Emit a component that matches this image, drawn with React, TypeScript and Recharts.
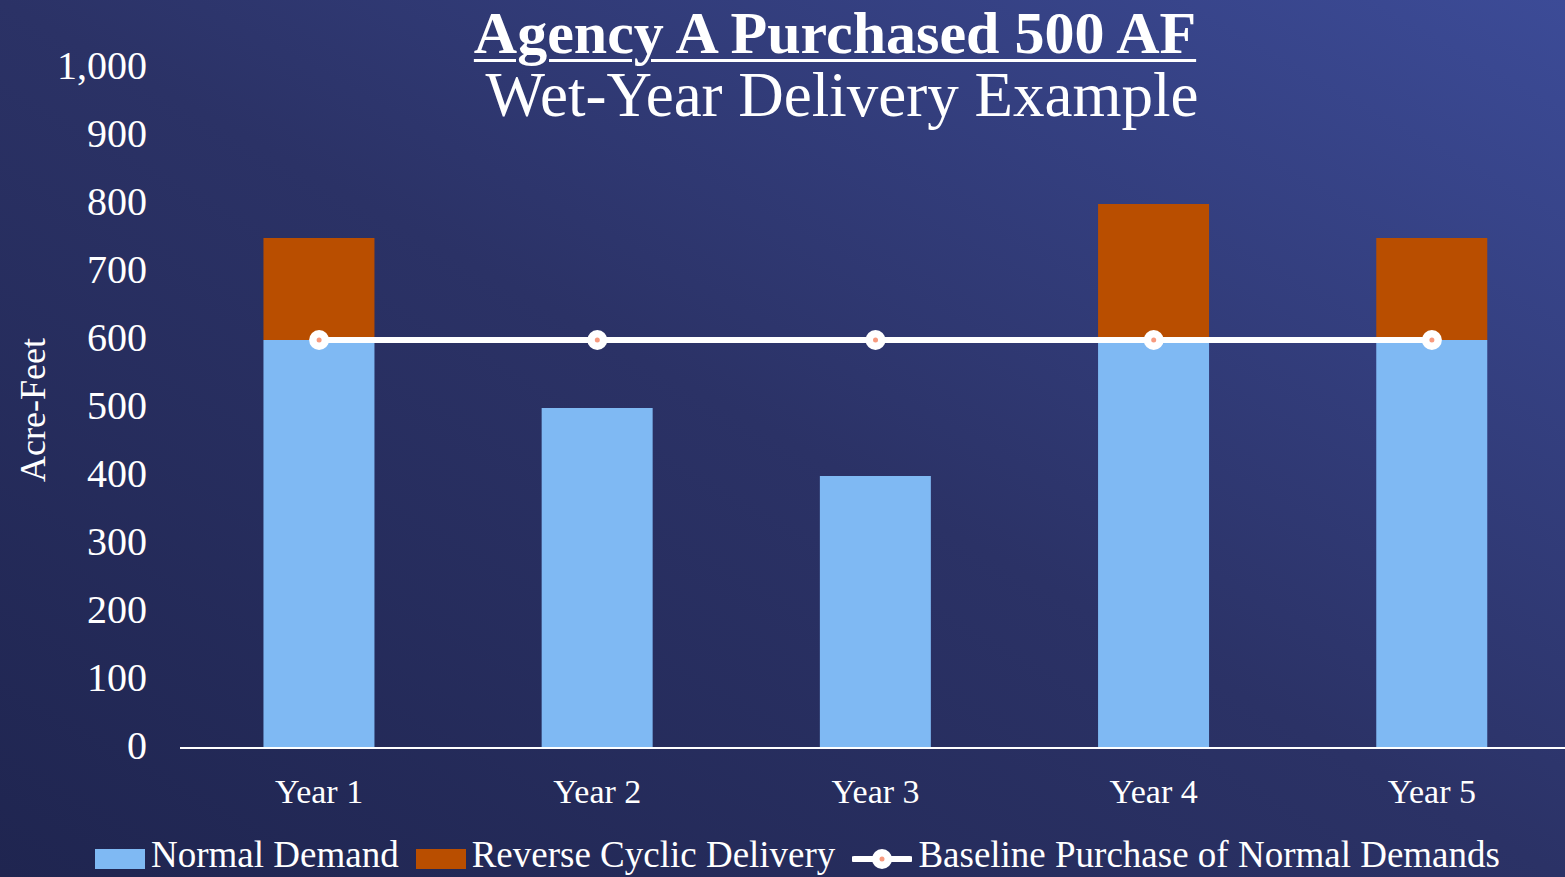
import React from 'react'
import {
  ComposedChart,
  Bar,
  Line,
  XAxis,
  YAxis,
  Legend,
} from 'recharts'

const years = ['Year 1', 'Year 2', 'Year 3', 'Year 4', 'Year 5']
const normalDemand = [600, 500, 400, 600, 600]
const reverseCyclic = [150, 0, 0, 200, 150]
const baselinePurchase = [600, 600, 600, 600, 600]
const yTicks = [0, 100, 200, 300, 400, 500, 600, 700, 800, 900, 1000]
const legendOrder = ['normal', 'reverse', 'baseline']

const data = years.map((year, i) => ({
  year,
  normal: normalDemand[i],
  reverse: reverseCyclic[i],
  baseline: baselinePurchase[i],
}))

const FONT = '"Liberation Serif", "DejaVu Serif", serif'
const BLUE = '#7fb9f3'
const ORANGE = '#b94e00'
const DOT_CENTER = '#f79a7e'

const BaselineDot = (props: any) => {
  const { cx, cy } = props
  if (cx == null || cy == null) return null
  return (
    <g>
      <circle cx={cx} cy={cy} r={10} fill="#fff" />
      <circle cx={cx} cy={cy} r={2.5} fill={DOT_CENTER} />
    </g>
  )
}

const LegendContent = ({ payload }: any) => {
  const items = [...(payload || [])].sort(
    (a: any, b: any) => legendOrder.indexOf(a.dataKey) - legendOrder.indexOf(b.dataKey)
  )
  return (
    <div
      style={{
        display: 'flex',
        justifyContent: 'center',
        alignItems: 'center',
        height: 38,
        paddingTop: 9,
        paddingBottom: 3,
        paddingLeft: 24,
        fontFamily: FONT,
        fontSize: 37,
        lineHeight: '38px',
        color: '#fff',
        gap: 17,
        whiteSpace: 'nowrap',
      }}
    >
      {items.map((entry: any) => (
        <div key={entry.value} style={{ display: 'flex', alignItems: 'center', gap: 6 }}>
          {entry.type === 'line' ? (
            <svg width={60} height={24} style={{ marginTop: 8 }}>
              <line x1={2} y1={12} x2={58} y2={12} stroke="#fff" strokeWidth={6} strokeLinecap="round" />
              <circle cx={30} cy={12} r={10} fill="#fff" />
              <circle cx={30} cy={12} r={2.5} fill={DOT_CENTER} />
            </svg>
          ) : (
            <div style={{ width: 50, height: 20, marginTop: 8, background: entry.color }} />
          )}
          <span>{entry.value}</span>
        </div>
      ))}
    </div>
  )
}

export default function App() {
  return (
    <div
      style={{
        position: 'absolute',
        left: 0,
        top: 0,
        width: 1565,
        height: 877,
        overflow: 'hidden',
        background: 'linear-gradient(to top right, #1f2550 0%, #2b3266 50%, #3c4b97 100%)',
        fontFamily: FONT,
      }}
    >
      <ComposedChart
        width={1565}
        height={877}
        data={data}
        margin={{ top: 68, right: -6, left: 0, bottom: 0 }}
        barCategoryGap="30%"
      >
        <XAxis
          dataKey="year"
          axisLine={{ stroke: '#fff', strokeWidth: 2 }}
          tickLine={false}
          tickSize={0}
          tickMargin={31}
          height={79}
          tick={{ fill: '#fff', fontSize: 34, fontFamily: FONT }}
        />
        <YAxis
          domain={[0, 1000]}
          ticks={yTicks}
          interval={0}
          width={180}
          axisLine={false}
          tickLine={false}
          tickSize={0}
          tickMargin={33}
          tickFormatter={(v: number) => v.toLocaleString('en-US')}
          tick={{ fill: '#fff', fontSize: 40, fontFamily: FONT, dy: -3 }}
          label={{
            content: () => (
              <text
                x={33}
                y={410}
                transform="rotate(-90, 33, 410)"
                textAnchor="middle"
                dominantBaseline="central"
                fill="#fff"
                fontSize={36}
                fontFamily={FONT}
              >
                Acre-Feet
              </text>
            ),
          }}
        />
        <Legend verticalAlign="bottom" content={<LegendContent />} />
        <Bar dataKey="normal" name="Normal Demand" stackId="a" fill={BLUE} isAnimationActive={false} />
        <Bar dataKey="reverse" name="Reverse Cyclic Delivery" stackId="a" fill={ORANGE} isAnimationActive={false} />
        <Line
          dataKey="baseline"
          name="Baseline Purchase of Normal Demands"
          type="linear"
          stroke="#fff"
          strokeWidth={6}
          dot={<BaselineDot />}
          activeDot={false}
          isAnimationActive={false}
        />
      </ComposedChart>
      <div
        style={{
          position: 'absolute',
          left: 835,
          top: 0,
          transform: 'translateX(-50%)',
          textAlign: 'center',
          color: '#fff',
          whiteSpace: 'nowrap',
          lineHeight: 1,
        }}
      >
        <div style={{ fontSize: 60, fontWeight: 700, textDecoration: 'underline', textDecorationThickness: 3, textUnderlineOffset: 6, marginTop: 3 }}>
          Agency A Purchased 500 AF
        </div>
        <div style={{ fontSize: 63, marginTop: 1, marginLeft: 14 }}>Wet-Year Delivery Example</div>
      </div>
    </div>
  )
}
